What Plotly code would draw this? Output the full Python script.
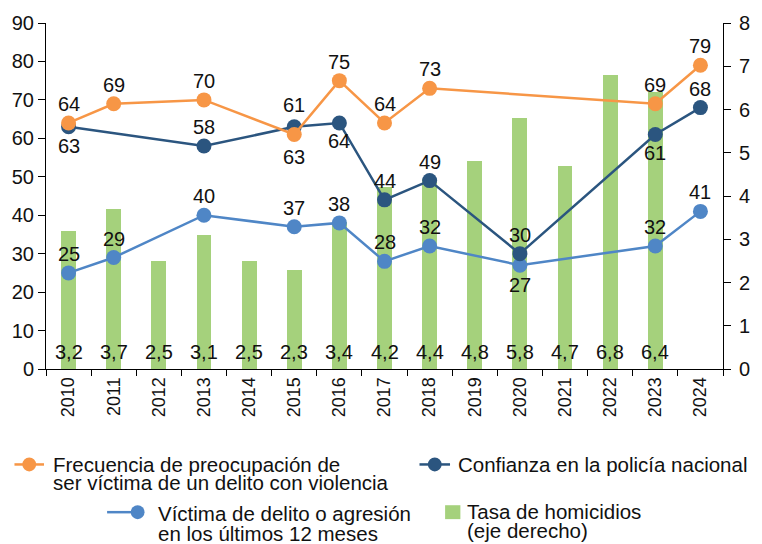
import plotly.graph_objects as go

# ---------------- data ----------------
years = [str(y) for y in range(2010, 2025)]
preocupacion = [64, 69, None, 70, None, 61, 75, 64, 73, None, None, None, None, 69, 79]
confianza = [63, None, None, 58, None, 63, 64, 44, 49, None, 30, None, None, 61, 68]
victima = [25, 29, None, 40, None, 37, 38, 28, 32, None, 27, None, None, 32, 41]
homicidios = [3.2, 3.7, 2.5, 3.1, 2.5, 2.3, 3.4, 4.2, 4.4, 4.8, 5.8, 4.7, 6.8, 6.4, None]

names = [
    ["Frecuencia de preocupación de", "ser víctima de un delito con violencia"],
    ["Confianza en la policía nacional"],
    ["Víctima de delito o agresión", "en los últimos 12 meses"],
    ["Tasa de homicidios", "(eje derecho)"],
]

# ---------------- style ----------------
C_OR = "#F79646"
C_DK = "#2B557F"
C_LB = "#4F86C6"
C_GR = "#A5D17C"
FONT = "Liberation Sans, Arial, sans-serif"
TXT = "#111111"

# label placement (pixels, + above the point)
pre_shift = {"2015": 29}
conf_shift = {"2010": -19, "2015": -30, "2016": -18, "2023": -19}
vic_shift = {"2020": -20}

L, R, T, B = 46, 29, 21, 175
W, H = 762, 544
PW, PH = W - L - R, H - T - B


def px(x):
    return (x - L) / PW


def py(y):
    return (H - B - y) / PH


fig = go.Figure()

fig.add_trace(go.Bar(
    x=years, y=homicidios, yaxis="y", marker=dict(color=C_GR, line_width=0),
    width=0.33, name="Tasa de homicidios (eje derecho)", showlegend=False,
))

for vals, col, nm in [(victima, C_LB, names[2]), (confianza, C_DK, names[1]),
                      (preocupacion, C_OR, names[0])]:
    fig.add_trace(go.Scatter(
        x=years, y=vals, yaxis="y2", mode="lines+markers", connectgaps=True,
        line=dict(color=col, width=2.5), marker=dict(color=col, size=15),
        name=" ".join(nm), showlegend=False,
    ))

ann = []
for vals, shifts, default in [(preocupacion, pre_shift, 19),
                              (confianza, conf_shift, 19),
                              (victima, vic_shift, 19)]:
    for i, (yr, v) in enumerate(zip(years, vals)):
        if v is None:
            continue
        ann.append(dict(x=i, y=v, xref="x", yref="y2", text=str(v),
                        showarrow=False, yshift=shifts.get(yr, default),
                        font=dict(size=20, color=TXT, family=FONT)))

for i, v in enumerate(homicidios):
    if v is None:
        continue
    ann.append(dict(x=i, y=0, xref="x", yref="y", text=f"{v:.1f}".replace(".", ","),
                    showarrow=False, yshift=17,
                    font=dict(size=20, color=TXT, family=FONT)))

# ---------------- manual legend ----------------
shapes = []


def leg_line(x0, x1, y, col, mx):
    shapes.append(dict(type="line", xref="paper", yref="paper",
                       x0=px(x0), x1=px(x1), y0=py(y), y1=py(y),
                       line=dict(color=col, width=2.5)))
    r = 7
    shapes.append(dict(type="circle", xref="paper", yref="paper",
                       x0=px(mx - r), x1=px(mx + r), y0=py(y + r), y1=py(y - r),
                       fillcolor=col, line=dict(color=col, width=0)))


def leg_text(x, y, lines, gap):
    for i, t in enumerate(lines):
        ann.append(dict(x=px(x), y=py(y + i * gap), xref="paper", yref="paper",
                        text=t, showarrow=False, xanchor="left", yanchor="middle",
                        font=dict(size=20.5, color=TXT, family=FONT)))


leg_line(14, 44, 465, C_OR, 29)
leg_text(51, 465.5, names[0], 17.8)
leg_line(425, 456, 465, C_DK, 440.5)
leg_text(462, 465.5, names[1], 18)
leg_line(108, 139, 513, C_LB, 139)
leg_text(158, 514, names[2], 20.3)
shapes.append(dict(type="rect", xref="paper", yref="paper",
                   x0=px(451), x1=px(466.5), y0=py(520), y1=py(506),
                   fillcolor=C_GR, line=dict(width=0)))
leg_text(471, 512, names[3], 19)

axis_common = dict(showline=True, linecolor="black", linewidth=1, ticks="outside",
                   tickcolor="black", ticklen=7, showgrid=False, zeroline=False,
                   tickfont=dict(size=20, color=TXT, family=FONT))

fig.update_layout(
    width=W, height=H, margin=dict(l=L, r=R, t=T, b=B),
    paper_bgcolor="white", plot_bgcolor="white", showlegend=False,
    bargap=0,
    xaxis=dict(type="category", categoryorder="array", categoryarray=years,
               range=[-0.5, 14.5], showline=True, linecolor="black", linewidth=1,
               ticks="outside", tickcolor="black", ticklen=6, tickson="boundaries",
               tickangle=-90, showgrid=False,
               tickfont=dict(size=18, color=TXT, family=FONT)),
    yaxis=dict(side="right", range=[0, 8], dtick=1, ticklabelstandoff=4, **axis_common),
    yaxis2=dict(side="left", overlaying="y", range=[0, 90], dtick=10, **axis_common),
    annotations=ann, shapes=shapes,
    font=dict(family=FONT, color=TXT),
)

fig.write_html("out.html", config={"displayModeBar": False},
               post_script="document.body.style.margin='0';document.body.style.padding='0';")
